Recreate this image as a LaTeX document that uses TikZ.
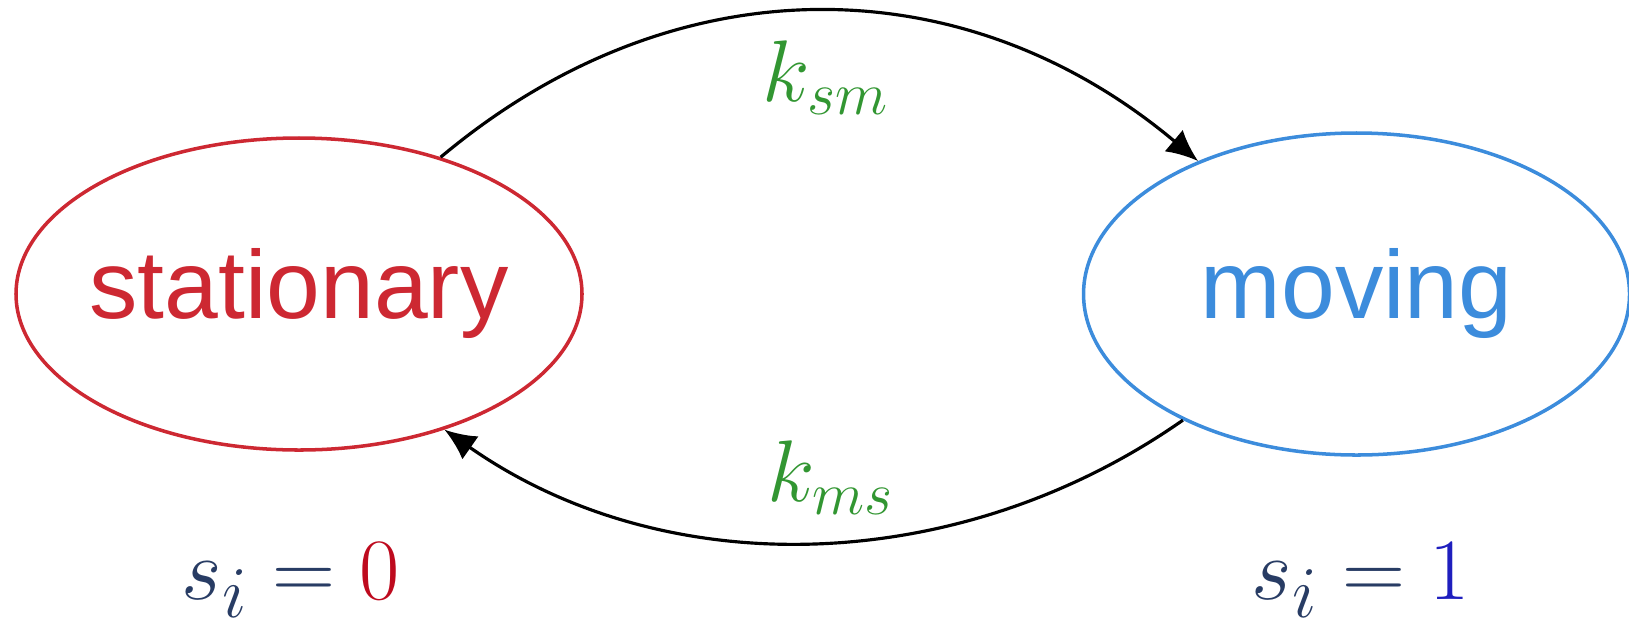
\documentclass[tikz,border=0pt]{standalone}
\usepackage{fontspec}
\setmainfont{Liberation Sans}
\usetikzlibrary{arrows.meta, positioning, shapes.geometric}

\definecolor{statred}{RGB}{205,40,50}
\definecolor{movblue}{RGB}{60,140,220}
\definecolor{rategreen}{RGB}{50,150,50}
\definecolor{varblue}{RGB}{40,60,100}
\definecolor{zerored}{RGB}{190,10,30}
\definecolor{oneblue}{RGB}{30,30,190}

\begin{document}
\begin{tikzpicture}
    \tikzstyle{statebox}=[draw, ellipse, line width=1pt, inner xsep=-0.1cm, inner ysep=0pt, font=\fontsize{27.5}{33}\selectfont]
    \tikzstyle{ratelabel}=[text=rategreen, font=\fontsize{24}{28}\selectfont]
    \tikzstyle{spinlabel}=[text=varblue, font=\fontsize{28}{32}\selectfont]
    \tikzstyle{flow}=[-{Latex[length=9pt, width=8pt]}, line width=0.9pt]

    \useasboundingbox (0,0) rectangle (16.29,-6.26);

    \node[statebox, statred, minimum width=5.66cm, minimum height=3.12cm] (stat) at (2.99,-2.94) {stationary};
    \node[statebox, movblue, minimum width=5.46cm, minimum height=3.22cm, right=4.98cm of stat] (mov) {moving};

    \draw[flow] (stat.44) to[out=40, in=140, looseness=1.03] (mov.140);
    \draw[flow] (mov.216) to[out=215, in=-35, looseness=0.94] (stat.317);

    \node[ratelabel] (ksm) at (8.26,-0.78) {$k_{sm}$};
    \node[ratelabel] (kms) at (8.31,-4.78) {$k_{ms}$};

    \node[spinlabel] (s0) at (2.91,-5.80) {$s_i = \textcolor{zerored}{0}$};
    \node[spinlabel] (s1) at (13.61,-5.80) {$s_i = \textcolor{oneblue}{1}$};
\end{tikzpicture}
\end{document}
